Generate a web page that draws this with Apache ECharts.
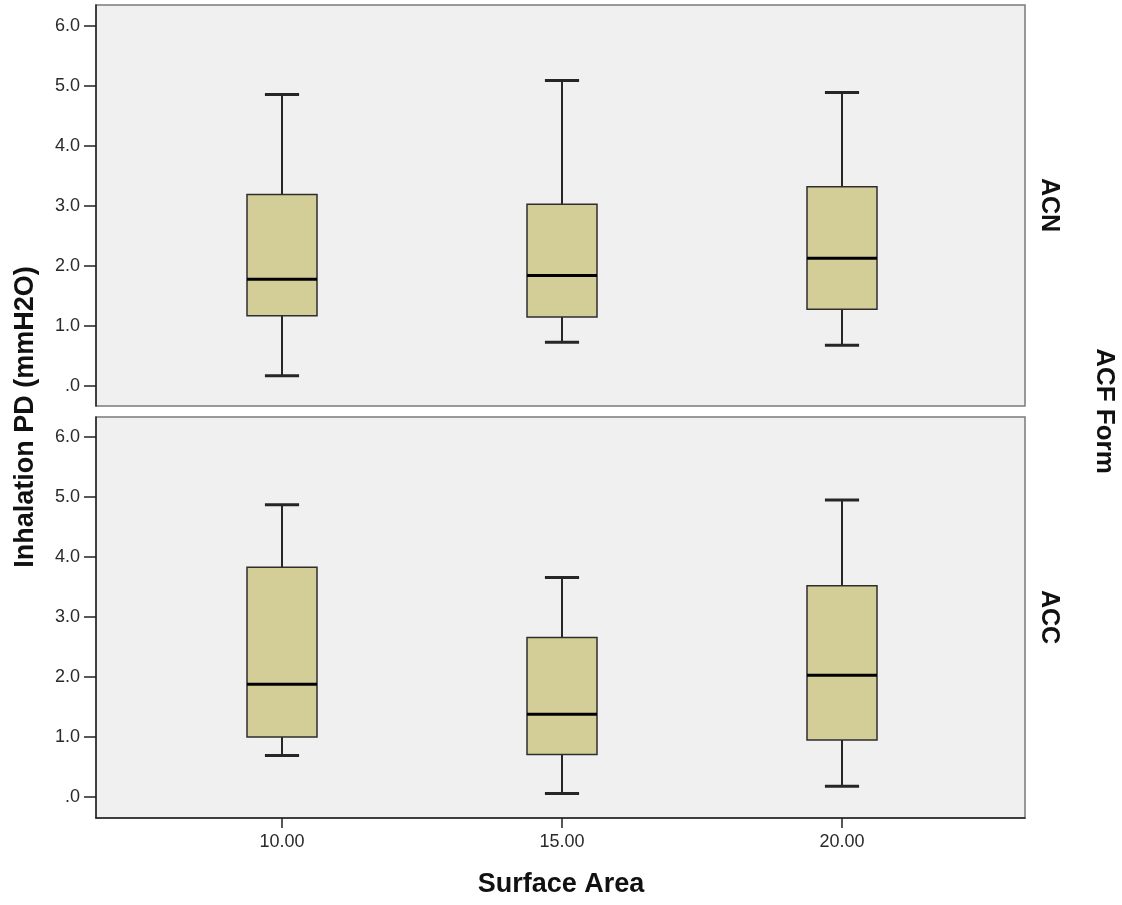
<!DOCTYPE html>
<html>
<head>
<meta charset="utf-8">
<script src="https://cdn.jsdelivr.net/npm/echarts@6/dist/echarts.min.js"></script>
<style>
html,body{margin:0;padding:0;background:#fff;}
#chart{width:1122px;height:905px;}
</style>
</head>
<body>
<div id="chart"></div>
<script>
// ---- data ----
const categories = ['10.00', '15.00', '20.00'];
const yTicks = [0, 1, 2, 3, 4, 5, 6];

// ACN panel (top)
const acnMin = [0.17, 0.73, 0.68];
const acnQ1  = [1.17, 1.15, 1.28];
const acnMed = [1.78, 1.84, 2.13];
const acnQ3  = [3.19, 3.03, 3.32];
const acnMax = [4.86, 5.09, 4.89];

// ACC panel (bottom)
const accMin = [0.69, 0.06, 0.18];
const accQ1  = [1.00, 0.71, 0.95];
const accMed = [1.88, 1.38, 2.03];
const accQ3  = [3.83, 2.66, 3.52];
const accMax = [4.87, 3.66, 4.95];

const panelNames = ['ACN', 'ACC'];

function buildData(mn, q1, md, q3, mx) {
  return categories.map((c, i) => [i, mn[i], q1[i], md[i], q3[i], mx[i]]);
}

const FONT = 'Liberation Sans, Arial, Helvetica, sans-serif';
const BOX_FILL = '#d3ce98';
const LINE = '#262626';

function renderBox(params, api) {
  const x = api.value(0);
  const lo = api.coord([x, api.value(1)]);
  const q1 = api.coord([x, api.value(2)]);
  const md = api.coord([x, api.value(3)]);
  const q3 = api.coord([x, api.value(4)]);
  const hi = api.coord([x, api.value(5)]);
  const band = api.size([1, 0])[0];
  const bw = band * 0.25;
  const cw = band * 0.122;
  const cx = lo[0];
  return {
    type: 'group',
    children: [
      {type: 'line', shape: {x1: cx, y1: hi[1], x2: cx, y2: q3[1]}, style: {stroke: LINE, lineWidth: 2}},
      {type: 'line', shape: {x1: cx, y1: q1[1], x2: cx, y2: lo[1]}, style: {stroke: LINE, lineWidth: 2}},
      {type: 'line', shape: {x1: cx - cw / 2, y1: hi[1], x2: cx + cw / 2, y2: hi[1]}, style: {stroke: LINE, lineWidth: 3}},
      {type: 'line', shape: {x1: cx - cw / 2, y1: lo[1], x2: cx + cw / 2, y2: lo[1]}, style: {stroke: LINE, lineWidth: 3}},
      {type: 'rect', shape: {x: cx - bw / 2, y: q3[1], width: bw, height: q1[1] - q3[1]},
        style: {fill: BOX_FILL, stroke: '#2e2e2e', lineWidth: 1.5}},
      {type: 'line', shape: {x1: cx - bw / 2, y1: md[1], x2: cx + bw / 2, y2: md[1]}, style: {stroke: '#000', lineWidth: 3}}
    ]
  };
}

const frameGrid = (top) => ({
  left: 96, top: top, width: 929, height: 401, show: true,
  backgroundColor: '#f0f0f0', borderColor: '#7a7a7a', borderWidth: 1.5, containLabel: false
});

const hiddenValueAxis = (g) => ({gridIndex: g, type: 'value', min: 0, max: 1, show: false});

const option = {
  backgroundColor: '#ffffff',
  animation: false,
  grid: [
    frameGrid(5),
    frameGrid(417),
    {left: 142, top: 26, width: 840, height: 360},
    {left: 142, top: 437, width: 840, height: 360},
    {left: 142, top: 437, width: 840, height: 381}   // carries the shared x axis at the frame bottom
  ],
  xAxis: [
    {gridIndex: 0, type: 'value', min: 0, max: 1, axisLine: {show: false}, axisTick: {show: false}, axisLabel: {show: false}, splitLine: {show: false}},
    {gridIndex: 1, type: 'value', min: 0, max: 1, axisLine: {show: true, lineStyle: {color: '#222', width: 1.5}}, axisTick: {show: false}, axisLabel: {show: false}, splitLine: {show: false}},
    {gridIndex: 2, type: 'category', data: categories, show: false},
    {gridIndex: 3, type: 'category', data: categories, show: false},
    {gridIndex: 4, type: 'category', data: categories, position: 'bottom',
      axisLine: {show: false},
      axisTick: {show: true, alignWithLabel: true, length: 10, lineStyle: {color: '#222', width: 1.5}},
      axisLabel: {margin: 15, fontSize: 18, color: '#2a2a2a', fontFamily: FONT},
      splitLine: {show: false}}
  ],
  yAxis: [0, 1].map(g => ({gridIndex: g, type: 'value', min: 0, max: 1,
      axisLine: {show: true, lineStyle: {color: '#222', width: 1.5}}, axisTick: {show: false}, axisLabel: {show: false}, splitLine: {show: false}}))
    .concat([2, 3].map(g => ({
      gridIndex: g, type: 'value', min: yTicks[0], max: yTicks[yTicks.length - 1], interval: 1, offset: 46,
      axisLine: {show: false},
      axisTick: {show: true, length: 12, lineStyle: {color: '#222', width: 1.5}},
      axisLabel: {margin: 16, fontSize: 18, color: '#2a2a2a', fontFamily: FONT,
        formatter: v => (v === 0 ? '.0' : v.toFixed(1))},
      splitLine: {show: false}
    })))
    .concat([hiddenValueAxis(4)]),
  series: [
    {name: panelNames[0], type: 'custom', xAxisIndex: 2, yAxisIndex: 2, renderItem: renderBox,
      data: buildData(acnMin, acnQ1, acnMed, acnQ3, acnMax), z: 5},
    {name: panelNames[1], type: 'custom', xAxisIndex: 3, yAxisIndex: 3, renderItem: renderBox,
      data: buildData(accMin, accQ1, accMed, accQ3, accMax), z: 5}
  ],
  graphic: [
    {type: 'text', x: 26, y: 417, rotation: Math.PI / 2,
      style: {text: 'Inhalation PD (mmH2O)', fontFamily: FONT, fontSize: 27, fontWeight: 'bold', fill: '#111', align: 'center', verticalAlign: 'middle'}},
    {type: 'text', x: 561, y: 885,
      style: {text: 'Surface Area', fontFamily: FONT, fontSize: 27, fontWeight: 'bold', fill: '#111', align: 'center', verticalAlign: 'middle'}},
    {type: 'text', x: 1049, y: 205, rotation: -Math.PI / 2,
      style: {text: panelNames[0], fontFamily: FONT, fontSize: 25, fontWeight: 'bold', fill: '#111', align: 'center', verticalAlign: 'middle'}},
    {type: 'text', x: 1049, y: 617, rotation: -Math.PI / 2,
      style: {text: panelNames[1], fontFamily: FONT, fontSize: 25, fontWeight: 'bold', fill: '#111', align: 'center', verticalAlign: 'middle'}},
    {type: 'text', x: 1104, y: 411, rotation: -Math.PI / 2,
      style: {text: 'ACF Form', fontFamily: FONT, fontSize: 26, fontWeight: 'bold', fill: '#111', align: 'center', verticalAlign: 'middle'}}
  ]
};

const chart = echarts.init(document.getElementById('chart'), null, {renderer: 'canvas'});
chart.setOption(option);
</script>
</body>
</html>
